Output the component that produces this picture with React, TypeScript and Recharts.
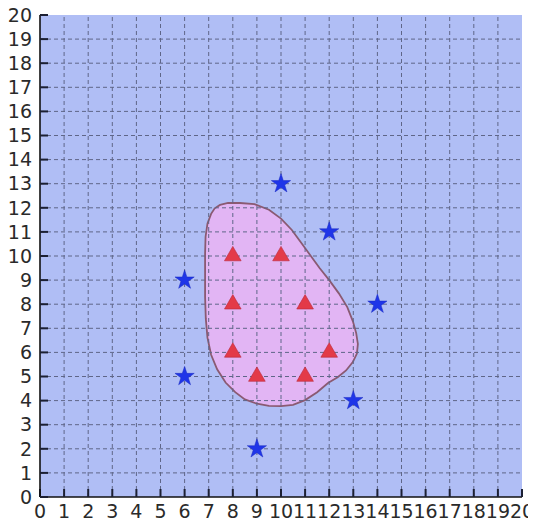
import React from 'react';
import { ScatterChart, Scatter, XAxis, YAxis, CartesianGrid, ReferenceLine, Symbols } from 'recharts';

const axisTicks = [0, 1, 2, 3, 4, 5, 6, 7, 8, 9, 10, 11, 12, 13, 14, 15, 16, 17, 18, 19, 20];
const gridValues = [1, 2, 3, 4, 5, 6, 7, 8, 9, 10, 11, 12, 13, 14, 15, 16, 17, 18, 19];

const stars = [
  { x: 10, y: 13 },
  { x: 12, y: 11 },
  { x: 6, y: 9 },
  { x: 14, y: 8 },
  { x: 6, y: 5 },
  { x: 13, y: 4 },
  { x: 9, y: 2 },
];

const triangles = [
  { x: 8, y: 10 },
  { x: 10, y: 10 },
  { x: 8, y: 8 },
  { x: 11, y: 8 },
  { x: 8, y: 6 },
  { x: 12, y: 6 },
  { x: 9, y: 5 },
  { x: 11, y: 5 },
];

const regionBoundary = [
  { x: 7.47, y: 12.12 }, { x: 7.8, y: 12.2 }, { x: 8.3, y: 12.2 }, { x: 8.9, y: 12.15 },
  { x: 9.5, y: 11.92 }, { x: 10.0, y: 11.55 }, { x: 10.45, y: 11.08 }, { x: 10.8, y: 10.6 },
  { x: 11.2, y: 10.05 }, { x: 11.6, y: 9.5 }, { x: 12.0, y: 9.0 }, { x: 12.4, y: 8.45 },
  { x: 12.75, y: 7.88 }, { x: 12.98, y: 7.3 }, { x: 13.12, y: 6.8 }, { x: 13.19, y: 6.35 },
  { x: 13.15, y: 5.95 }, { x: 12.98, y: 5.6 }, { x: 12.7, y: 5.25 }, { x: 12.35, y: 4.97 },
  { x: 11.95, y: 4.73 }, { x: 11.5, y: 4.35 }, { x: 11.0, y: 4.02 }, { x: 10.5, y: 3.82 },
  { x: 10.0, y: 3.77 }, { x: 9.5, y: 3.78 }, { x: 9.0, y: 3.87 }, { x: 8.5, y: 4.05 },
  { x: 8.1, y: 4.35 }, { x: 7.7, y: 4.75 }, { x: 7.35, y: 5.3 }, { x: 7.1, y: 5.9 },
  { x: 6.95, y: 6.6 }, { x: 6.88, y: 7.4 }, { x: 6.85, y: 8.3 }, { x: 6.85, y: 9.2 },
  { x: 6.85, y: 10.1 }, { x: 6.87, y: 10.8 }, { x: 6.95, y: 11.35 }, { x: 7.1, y: 11.75 },
  { x: 7.25, y: 11.98 },
];

const tickFont = { fontFamily: 'DejaVu Sans', fontSize: 19, fill: '#2a2a2a' };
const axisLineStyle = { stroke: '#111', strokeWidth: 1.6 };
const tickLineStyle = { stroke: '#1c2033', strokeWidth: 2 };

const StarShape = (props: any) => (
  <Symbols cx={props.cx} cy={props.cy} type="star" size={115} fill="#1f35e8" stroke="#1a2ac0" strokeWidth={0.5} />
);
const TriangleShape = (props: any) => (
  <Symbols cx={props.cx} cy={props.cy} type="triangle" size={120} fill="#e33a48" stroke="#b8283a" strokeWidth={0.6} />
);
const NoShape = () => <g />;

export default function App() {
  return (
    <div>
      <style>{'.recharts-surface { overflow: visible; }'}</style>
      <ScatterChart width={528} height={514} margin={{ top: 7, right: 14, bottom: 0, left: 0 }}>
        <CartesianGrid fill="#b0bef5" horizontal={false} vertical={false} stroke="none" />
        <Scatter
          data={regionBoundary}
          shape={NoShape}
          line={{ stroke: '#8a5a72', strokeWidth: 1.8, fill: '#e2b5f4' }}
          lineJointType="linearClosed"
          isAnimationActive={false}
          zIndex={50}
        />
        {gridValues.map((v) => (
          <ReferenceLine key={'vx' + v} x={v} stroke="#5f6688" strokeWidth={1} strokeDasharray="4 3" zIndex={60} />
        ))}
        {gridValues.map((v) => (
          <ReferenceLine key={'hy' + v} y={v} stroke="#5f6688" strokeWidth={1} strokeDasharray="4 3" zIndex={60} />
        ))}
        <XAxis
          type="number" dataKey="x" domain={[0, 20]} ticks={axisTicks} interval={0}
          allowDataOverflow height={25} tickSize={-8} tickMargin={16}
          axisLine={axisLineStyle} tickLine={tickLineStyle}
          tick={tickFont}
        />
        <YAxis
          type="number" dataKey="y" domain={[0, 20]} ticks={axisTicks} interval={0}
          allowDataOverflow width={32} tickSize={-8} tickMargin={16}
          axisLine={axisLineStyle} tickLine={tickLineStyle}
          tick={tickFont}
        />
        <XAxis
          xAxisId="top" orientation="top" type="number" domain={[0, 20]} ticks={axisTicks} interval={0}
          allowDataOverflow height={0} tickSize={-8} tickMargin={0} tickFormatter={() => ''}
          axisLine={axisLineStyle} tickLine={tickLineStyle}
        />
        <YAxis
          yAxisId="right" orientation="right" type="number" domain={[0, 20]} ticks={axisTicks} interval={0}
          allowDataOverflow width={0} tickSize={-8} tickMargin={0} tickFormatter={() => ''}
          axisLine={axisLineStyle} tickLine={tickLineStyle}
        />
        <Scatter data={triangles} shape={TriangleShape} isAnimationActive={false} />
        <Scatter data={stars} shape={StarShape} isAnimationActive={false} />
      </ScatterChart>
    </div>
  );
}
